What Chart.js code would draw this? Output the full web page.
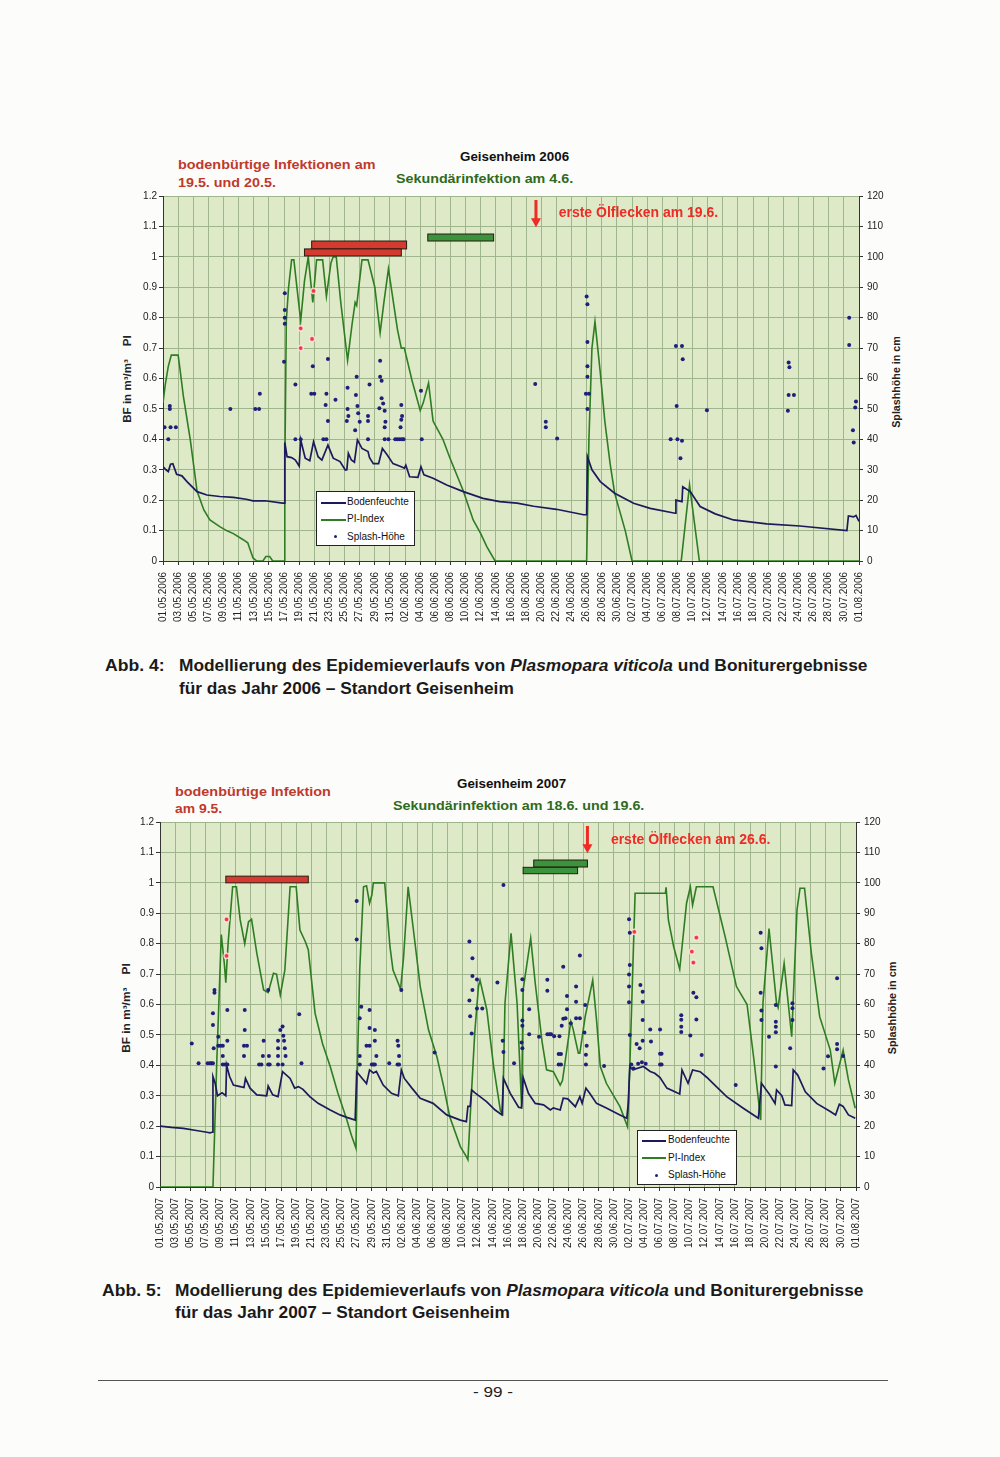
<!DOCTYPE html>
<html>
<head>
<meta charset="utf-8">
<script src="https://cdn.jsdelivr.net/npm/chart.js@4.4.0/dist/chart.umd.min.js"></script>
<style>
body { margin: 0; background: #fcfcfb; width: 1000px; height: 1457px; position: relative; overflow: hidden;
       font-family: "Liberation Sans", Arial, sans-serif; }
.t { position: absolute; white-space: nowrap; line-height: 1; font-weight: bold; transform-origin: 0 50%; }
.cap { font-family: "Liberation Sans Narrow", "Liberation Sans", Arial, sans-serif; font-size: 17px; color: #1a1a1a; }
.rot { position: absolute; white-space: nowrap; line-height: 1; font-weight: bold; font-size: 10px; color: #222;
       transform-origin: 50% 50%; }
canvas { position: absolute; }
.leg { position: absolute; background: #fff; border: 1px solid #222; font-size: 10px; color: #111; }
.leg div { position: absolute; left: 30px; height: 12px; line-height: 12px; white-space: nowrap; }
.leg span { position: absolute; }
.rule { position: absolute; left: 98px; top: 1380px; width: 790px; height: 0; border-top: 1px solid #555; }
</style>
</head>
<body>

<!-- chart 1 texts -->
<div class="t" style="left:178px;top:158px;font-size:13px;color:#c0392b" data-w="197">bodenbürtige Infektionen am</div>
<div class="t" style="left:178px;top:176px;font-size:13px;color:#c0392b" data-w="98">19.5. und 20.5.</div>
<div class="t" style="left:460px;top:151px;font-size:12px;color:#111" data-w="109">Geisenheim 2006</div>
<div class="t" style="left:396px;top:172px;font-size:13px;color:#2e6b20" data-w="177">Sekundärinfektion am 4.6.</div>
<div class="rot" style="left:128px;top:379px" data-w="88">BF in m³/m³&nbsp;&nbsp;&nbsp;&nbsp;PI</div>
<div class="rot" style="left:897px;top:382px" data-w="92">Splashhöhe in cm</div>

<canvas id="c2006"></canvas>

<div class="leg" style="left:316px;top:491px;width:97px;height:53px">
  <span style="left:4px;top:10px;width:25px;border-top:2px solid #1d1a5c"></span>
  <div style="top:4px">Bodenfeuchte</div>
  <span style="left:4px;top:27px;width:25px;border-top:2px solid #2f7d22"></span>
  <div style="top:21px">PI-Index</div>
  <span style="left:17px;top:43px;width:3px;height:3px;border-radius:50%;background:#1f1f7a"></span>
  <div style="top:39px">Splash-Höhe</div>
</div>

<div class="t cap" style="left:105px;top:657px" data-w="60">Abb. 4:</div>
<div class="t cap" style="left:179px;top:657px" data-w="688">Modellierung des Epidemieverlaufs von <i>Plasmopara viticola</i> und Boniturergebnisse</div>
<div class="t cap" style="left:179px;top:680px" data-w="335">für das Jahr 2006 – Standort Geisenheim</div>

<!-- chart 2 texts -->
<div class="t" style="left:175px;top:785px;font-size:13px;color:#c0392b" data-w="156">bodenbürtige Infektion</div>
<div class="t" style="left:175px;top:802px;font-size:13px;color:#c0392b" data-w="47">am 9.5.</div>
<div class="t" style="left:457px;top:778px;font-size:12px;color:#111" data-w="109">Geisenheim 2007</div>
<div class="t" style="left:393px;top:799px;font-size:13px;color:#2e6b20" data-w="251">Sekundärinfektion am 18.6. und 19.6.</div>
<div class="rot" style="left:127px;top:1008px" data-w="90">BF in m³/m³&nbsp;&nbsp;&nbsp;&nbsp;PI</div>
<div class="rot" style="left:893px;top:1008px" data-w="93">Splashhöhe in cm</div>

<canvas id="c2007"></canvas>

<div class="leg" style="left:637px;top:1130px;width:98px;height:53px">
  <span style="left:4px;top:9px;width:24px;border-top:2px solid #1d1a5c"></span>
  <div style="top:3px">Bodenfeuchte</div>
  <span style="left:4px;top:26px;width:24px;border-top:2px solid #2f7d22"></span>
  <div style="top:21px">PI-Index</div>
  <span style="left:17px;top:43px;width:3px;height:3px;border-radius:50%;background:#1f1f7a"></span>
  <div style="top:38px">Splash-Höhe</div>
</div>

<div class="t cap" style="left:102px;top:1282px" data-w="60">Abb. 5:</div>
<div class="t cap" style="left:175px;top:1282px" data-w="688">Modellierung des Epidemieverlaufs von <i>Plasmopara viticola</i> und Boniturergebnisse</div>
<div class="t cap" style="left:175px;top:1304px" data-w="335">für das Jahr 2007 – Standort Geisenheim</div>

<div class="rule"></div>
<div class="t" style="left:473px;top:1384px;font-size:15px;font-weight:normal;color:#222" data-w="40">- 99 -</div>

<script>
// ---- data 2006 (x = days since 01.05.) ----
const piIndex2006 = [[0,0.52],[0.3,0.58],[0.7,0.64],[1.1,0.677],[2.0,0.677],[2.3,0.62],[2.7,0.54],[3.6,0.40],[4.5,0.23],
  [5.4,0.168],[6.2,0.135],[7.5,0.113],[8.4,0.1],[9.3,0.09],[10.6,0.07],[11.2,0.06],[11.9,0.01],[12.4,0],[13.2,0],
  [13.6,0.015],[14.1,0.015],[14.5,0],[16.0,0],[16.1,0.3],[16.3,0.79],[16.6,0.9],[17.0,0.99],[17.3,0.99],[17.7,0.9],
  [18.2,0.79],[18.7,0.92],[19.2,1.0],[19.8,0.85],[20.3,0.99],[21.1,0.99],[21.6,0.87],[22.2,0.98],[22.5,1.0],[22.9,1.0],
  [23.5,0.85],[24.4,0.66],[25.0,0.78],[25.4,0.85],[25.6,0.84],[26.3,0.99],[27.1,0.99],[28.0,0.9],[28.7,0.75],[29.2,0.85],
  [29.8,0.96],[30.4,0.86],[31.0,0.76],[31.5,0.70],[31.9,0.70],[32.9,0.595],[34.0,0.495],[34.4,0.52],[35.1,0.585],
  [35.7,0.46],[37.0,0.4],[37.9,0.34],[39.7,0.23],[41.0,0.135],[42.0,0.09],[42.8,0.047],[43.9,0],[56.0,0],[56.3,0.4],
  [56.7,0.7],[57.1,0.787],[57.8,0.62],[58.4,0.46],[59.1,0.32],[59.7,0.223],[61.1,0.10],[62.0,0],[68.5,0],[69.6,0.25],
  [70.9,0],[92,0]];
const soil2006 = [[0,0.31],[0.4,0.3],[0.7,0.294],[1.0,0.318],[1.3,0.32],[1.8,0.285],[2.5,0.28],[3.2,0.26],[4.5,0.228],
  [5.8,0.217],[7.5,0.212],[9.3,0.209],[11.0,0.203],[11.9,0.198],[13.5,0.198],[15.8,0.19],[16.0,0.19],[16.1,0.39],
  [16.4,0.343],[17.0,0.34],[17.5,0.332],[18.0,0.312],[18.2,0.398],[18.8,0.338],[19.4,0.33],[19.9,0.392],[20.5,0.343],
  [21.0,0.332],[21.8,0.381],[22.5,0.338],[23.4,0.327],[24.1,0.299],[24.3,0.3],[24.5,0.354],[24.9,0.332],[25.3,0.325],
  [25.7,0.398],[26.3,0.37],[27.1,0.36],[27.3,0.34],[27.8,0.32],[28.5,0.32],[29.0,0.37],[29.6,0.35],[30.4,0.32],
  [31.5,0.31],[31.9,0.305],[32.1,0.315],[32.6,0.277],[33.7,0.275],[34.1,0.31],[34.5,0.283],[35.7,0.272],[37.5,0.25],
  [39.7,0.228],[42.3,0.206],[44.5,0.195],[46.8,0.19],[49.0,0.18],[52,0.17],[55.6,0.152],[56.0,0.152],[56.1,0.343],
  [56.7,0.3],[57.8,0.261],[59.7,0.223],[62.2,0.19],[64.4,0.173],[67.7,0.157],[67.8,0.2],[68.6,0.195],[68.7,0.244],
  [69.7,0.228],[71,0.179],[73,0.155],[75.4,0.135],[79.8,0.122],[84.2,0.115],[90.4,0.1],[90.6,0.148],[91.3,0.145],
  [91.6,0.15],[92,0.13]];
const splash2006 = [[0.2,44],[0.7,40],[0.9,51],[0.9,50],[1.0,44],[1.7,44],[8.9,50],[12.2,50],[12.7,50],[12.8,55],
  [16.1,88],[16.1,82.5],[16.1,80],[16.1,78],[16.0,65.5],[17.5,58],[17.5,40],[18.2,40],[19.8,64],[19.6,55],[20.0,55],
  [21.8,66.4],[21.6,55],[21.5,51.3],[21.8,46],[21.2,40],[21.6,40],[22.8,53],[24.4,57],[24.4,50],[24.5,47.7],[24.3,46],
  [25.4,43],[25.5,54.6],[25.6,60.6],[25.7,51],[25.8,48.6],[26.0,45.8],[27.1,47.7],[27.1,46],[27.3,58],[27.1,40],
  [28.7,65.8],[28.7,60.6],[28.9,59.3],[28.9,53.5],[29.1,51.8],[28.6,50.2],[29.3,49.4],[29.4,45.8],[29.3,44],[29.3,40],
  [29.8,40],[30.7,40],[31.0,40],[31.3,40],[31.6,40],[31.8,40],[31.5,51.3],[31.6,47.7],[31.4,44],[31.5,46.4],[34.1,56],
  [34.2,40],[49.2,58.2],[50.6,45.8],[50.6,44],[52.1,40.3],[56.0,87],[56.1,84.4],[56.1,72],[56.1,64],[56.1,60.6],
  [55.9,55],[56.3,55],[56.1,50],[67.8,70.7],[68.6,70.7],[68.7,66.3],[67.9,51],[67.1,40],[68.0,40],[68.6,39.5],
  [68.4,33.8],[71.9,49.6],[82.7,65.3],[82.8,63.7],[82.7,54.6],[83.4,54.6],[82.6,49.4],[90.7,80],[90.7,71],[91.6,52.4],
  [91.5,50.5],[91.2,43],[91.3,39]];
const bonitur2006 = [[19.9,0.888],[18.2,0.765],[19.7,0.73],[18.2,0.70]];
const redBars2006 = [[19.65,32.2,1.026,1.052],[18.7,31.5,1.003,1.026]];
const greenBars2006 = [[35.0,43.7,1.052,1.075]];
const oilSpots2006 = { day: 49.3, labelDay: 52.3, labelValue: 1.145, text: 'erste Ölflecken am 19.6.' };

// ---- data 2007 ----
const piIndex2007 = [[0,0],[7.0,0],[7.5,0.407],[8.1,0.83],[8.5,0.735],[8.7,0.672],[9.0,0.80],[9.6,0.987],[10.1,0.987],
  [10.6,0.878],[11.2,0.80],[11.7,0.872],[12.1,0.88],[12.8,0.768],[13.7,0.648],[14.3,0.639],[15.0,0.703],[15.4,0.70],
  [15.9,0.631],[16.5,0.713],[17.2,0.987],[18.0,0.987],[18.5,0.845],[19.2,0.807],[19.6,0.78],[20.5,0.571],[21.5,0.47],
  [22.5,0.396],[23.5,0.31],[24.7,0.22],[25.3,0.17],[25.9,0.128],[26.1,0.4],[26.4,0.713],[26.9,0.987],[27.3,0.99],
  [27.7,0.933],[28.0,0.96],[28.2,1.0],[29.7,1.0],[30.4,0.79],[30.8,0.713],[31.5,0.67],[31.8,0.65],[32.2,0.757],
  [32.8,0.987],[33.5,0.845],[34.4,0.659],[35.5,0.516],[36.6,0.428],[37.5,0.33],[38.3,0.231],[39.7,0.133],[40.5,0.1],
  [40.7,0.09],[41.0,0.23],[41.6,0.505],[42.1,0.66],[42.3,0.68],[43.2,0.582],[44.1,0.396],[45.0,0.25],[45.3,0.24],
  [45.6,0.604],[46.4,0.834],[47.2,0.604],[47.8,0.264],[48.0,0.648],[49.0,0.818],[49.6,0.67],[50.5,0.478],[51.1,0.385],
  [52.0,0.379],[52.9,0.335],[53.2,0.35],[54.3,0.544],[54.6,0.52],[55.3,0.44],[55.5,0.44],[56.2,0.56],[57.2,0.68],
  [57.7,0.55],[58.2,0.396],[59.0,0.341],[60.8,0.264],[61.8,0.198],[62.1,0.396],[62.8,0.966],[66.8,0.966],[66.9,0.985],
  [67.2,0.878],[67.9,0.79],[68.7,0.716],[69.6,0.933],[70.1,0.987],[70.4,0.927],[70.9,0.987],[73.1,0.987],[74.7,0.823],
  [76.2,0.659],[77.6,0.6],[78.5,0.42],[79.3,0.242],[79.4,0.22],[79.7,0.604],[80.5,0.85],[81.5,0.604],[81.7,0.59],
  [82.5,0.735],[83.5,0.494],[84.2,0.911],[84.6,0.982],[85.2,0.982],[86.1,0.768],[87.2,0.56],[88.6,0.45],[89.2,0.341],
  [90.3,0.45],[91.0,0.352],[91.9,0.259]];
const soil2007 = [[0,0.2],[1.5,0.196],[3.1,0.193],[5,0.185],[6.2,0.18],[6.6,0.178],[6.9,0.18],[7.0,0.363],[7.3,0.34],
  [7.6,0.3],[8.2,0.31],[8.7,0.30],[8.8,0.40],[9.2,0.363],[9.7,0.335],[10.6,0.33],[11.1,0.327],[11.3,0.357],[11.9,0.325],
  [12.8,0.303],[14.1,0.30],[14.3,0.332],[14.9,0.303],[15.6,0.297],[16.2,0.379],[17.2,0.357],[17.8,0.325],[18.3,0.33],
  [18.9,0.321],[19.8,0.297],[20.9,0.275],[22.5,0.253],[23.8,0.237],[24.7,0.229],[25.8,0.22],[26.0,0.379],[26.9,0.352],
  [27.3,0.34],[27.7,0.385],[28.2,0.375],[28.6,0.38],[29.5,0.335],[30.6,0.308],[31.5,0.30],[31.9,0.385],[32.3,0.357],
  [33.3,0.325],[34.4,0.292],[36.1,0.275],[37.9,0.237],[39.7,0.22],[40.5,0.215],[40.7,0.265],[41.0,0.265],[41.2,0.319],
  [41.6,0.31],[42.3,0.297],[43.2,0.28],[44.3,0.253],[45.2,0.237],[45.4,0.357],[46.3,0.308],[47.4,0.262],[47.8,0.26],
  [48.0,0.36],[48.7,0.308],[49.6,0.275],[50.7,0.27],[51.6,0.253],[52.0,0.26],[52.9,0.253],[53.3,0.292],[53.9,0.29],
  [54.9,0.264],[55.5,0.297],[55.8,0.275],[56.3,0.325],[56.8,0.308],[57.7,0.275],[59.0,0.26],[60.8,0.237],[61.7,0.226],
  [61.9,0.275],[62.1,0.396],[62.5,0.385],[63.9,0.396],[64.8,0.38],[65.4,0.374],[66.1,0.36],[67.0,0.325],[68.7,0.306],
  [69.0,0.385],[69.8,0.341],[70.4,0.385],[71.4,0.379],[72.3,0.36],[73.1,0.341],[74.9,0.297],[77.1,0.259],[79.1,0.226],
  [79.5,0.341],[80.6,0.303],[81.3,0.275],[81.5,0.319],[82.2,0.30],[82.6,0.27],[83.5,0.268],[83.7,0.385],[84.3,0.368],
  [85.3,0.313],[86.8,0.275],[88.6,0.248],[89.3,0.237],[89.8,0.272],[90.3,0.265],[91.0,0.237],[91.9,0.226]];
const splash2007 = [[4.2,47.2],[5.1,40.7],[6.3,40.7],[6.6,40.7],[6.8,40.7],[7.0,40.7],[7.0,57.1],[7.0,53.3],[7.1,45.6],
  [7.2,64.8],[7.2,63.9],[7.7,49.4],[7.7,46.4],[8.0,46.4],[8.3,46.4],[8.3,43.1],[8.3,40.3],[8.6,40.3],[8.9,40.3],
  [8.9,58.2],[8.9,48.1],[11.2,58.2],[11.2,51.6],[11.1,46.4],[11.5,46.4],[11.1,43.1],[13.1,40.3],[13.4,40.3],[13.7,48.1],
  [13.6,43.1],[14.3,40.3],[14.5,40.3],[14.4,43.1],[14.3,64.8],[15.6,48.1],[15.6,45.6],[15.6,43.1],[15.6,40.3],
  [16.2,40.3],[15.9,51.6],[16.2,52.8],[16.3,49.7],[16.4,48.1],[16.5,45.6],[16.6,43.1],[18.4,56.8],[18.7,40.7],
  [26.0,94],[26.0,81.4],[26.6,59.3],[26.4,55.5],[26.4,43.1],[26.4,40.3],[27.3,46.4],[27.7,46.4],[27.7,58.2],[27.7,52.3],
  [28.0,40.3],[28.2,40.3],[28.4,40.3],[28.4,51.6],[28.4,48.1],[28.6,43.1],[30.3,40.7],[31.4,48.1],[31.5,46.4],
  [31.6,43.1],[31.4,40.3],[31.6,40.3],[31.9,64.8],[36.3,44.2],[40.9,80.7],[41.3,75.2],[41.3,69.4],[41.9,68.2],
  [41.3,64.8],[40.9,61.3],[41.0,56.1],[41.2,50.5],[41.9,58.7],[42.6,58.7],[44.6,67.2],[45.4,99.3],[45.3,48.1],
  [45.4,44.4],[46.8,40.7],[47.9,68.3],[47.9,64.8],[47.9,54.7],[47.9,53],[47.8,47.5],[47.9,45.6],[48.8,58.4],[48.8,50.2],
  [50.1,49.4],[51.2,68.1],[51.2,64.5],[51.2,50.2],[51.5,50.2],[51.7,50.2],[52.1,49.6],[52.8,49.6],[53.3,72.4],[53.1,53],
  [53.3,55.3],[52.7,43.7],[53.0,43.7],[52.7,40.3],[53.0,40.3],[53.8,62.8],[53.8,58.4],[53.6,55.5],[54.3,53.8],
  [55.0,65.9],[55.0,60.9],[55.0,55.5],[55.5,55.5],[55.5,76.1],[56.2,59.8],[56.1,50.8],[56.4,46.4],[56.3,43.5],
  [56.3,40.3],[58.7,39.8],[62.0,88],[62.1,83.6],[62.1,73],[62.0,69.9],[62.0,65.9],[62.0,60.7],[62.1,50],[62.3,40.3],
  [62.6,39],[63.5,66.4],[63.8,64.2],[63.8,60.9],[63.8,54.9],[63.0,47],[63.4,45.6],[63.8,48.1],[63.2,40.5],[63.7,41],
  [64.2,40.5],[64.8,51.8],[64.9,47.8],[66.1,51.8],[66.1,43.8],[66.3,43.8],[66.1,40.3],[66.3,40.3],[68.9,56.5],
  [68.9,55],[68.9,52.7],[68.9,51],[70.1,49.8],[70.5,63.9],[70.9,62.4],[70.9,55.1],[71.6,43.4],[76.1,33.5],[79.4,83.6],
  [79.5,78.5],[79.4,63.9],[79.5,58],[79.5,54.9],[80.5,49.4],[81.4,59.8],[81.4,54.3],[81.4,52.7],[81.4,50.9],
  [81.4,39.6],[83.3,45.6],[83.6,60.4],[83.6,58.8],[83.6,54.9],[87.7,39],[88.3,43],[89.5,68.6],[89.5,47],[89.5,45.3],
  [90.3,43.1]];
const bonitur2007 = [[8.8,0.88],[8.8,0.76],[62.7,0.839],[70.3,0.774],[70.9,0.82],[70.5,0.738]];
const redBars2007 = [[8.7,19.6,1.0,1.022]];
const greenBars2007 = [[49.4,56.5,1.052,1.075],[48.0,55.2,1.03,1.051]];
const oilSpots2007 = { day: 56.5, labelDay: 59.6, labelValue: 1.14, text: 'erste Ölflecken am 26.6.' };

Chart.defaults.font.family = '"Liberation Sans", Arial, sans-serif';
Chart.defaults.animation = false;

const GRID = '#9fb58b';
const AXIS = '#333';

function pts(arr) { return arr.map(p => ({ x: p[0], y: p[1] })); }

function dateLabel(year, v) {
  const d = new Date(year, 4, 1 + Math.round(v));
  const dd = String(d.getDate()).padStart(2, '0');
  const mm = String(d.getMonth() + 1).padStart(2, '0');
  return dd + '.' + mm + '.' + year;
}

// light green plot area
const plotBackground = {
  id: 'plotBackground',
  beforeDraw(chart) {
    const a = chart.chartArea, ctx = chart.ctx;
    ctx.save();
    ctx.fillStyle = '#dde9c7';
    ctx.fillRect(a.left, a.top, a.right - a.left, a.bottom - a.top);
    ctx.restore();
  }
};

// infection period bars, arrow and label for the first oil spots
function annotations(redBars, greenBars, oil) {
  return {
    id: 'annotations',
    afterDatasetsDraw(chart) {
      const ctx = chart.ctx, xs = chart.scales.x, ys = chart.scales.y;
      const bar = (b, fill) => {
        const x1 = xs.getPixelForValue(b[0]), x2 = xs.getPixelForValue(b[1]);
        const y1 = ys.getPixelForValue(b[3]), y2 = ys.getPixelForValue(b[2]);
        ctx.fillStyle = fill;
        ctx.fillRect(x1, y1, x2 - x1, y2 - y1);
        ctx.lineWidth = 1;
        ctx.strokeStyle = '#2a1a12';
        ctx.strokeRect(x1, y1, x2 - x1, y2 - y1);
      };
      ctx.save();
      redBars.forEach(b => bar(b, '#d43a2f'));
      greenBars.forEach(b => bar(b, '#3b933b'));

      const ax = xs.getPixelForValue(oil.day);
      const yA = ys.getPixelForValue(1.187), yB = ys.getPixelForValue(1.097);
      ctx.strokeStyle = '#ee2b24';
      ctx.fillStyle = '#ee2b24';
      ctx.lineWidth = 3;
      ctx.beginPath(); ctx.moveTo(ax, yA); ctx.lineTo(ax, yB - 8); ctx.stroke();
      ctx.beginPath(); ctx.moveTo(ax - 5, yB - 9); ctx.lineTo(ax + 5, yB - 9); ctx.lineTo(ax, yB); ctx.closePath(); ctx.fill();

      ctx.font = 'bold 14px "Liberation Sans", Arial, sans-serif';
      ctx.textBaseline = 'middle';
      ctx.textAlign = 'left';
      ctx.fillText(oil.text, xs.getPixelForValue(oil.labelDay), ys.getPixelForValue(oil.labelValue));
      ctx.restore();
    }
  };
}

function makeChart(id, year, left, top, pi, soil, splash, bonitur, redBars, greenBars, oil) {
  const cv = document.getElementById(id);
  cv.width = 820; cv.height = 450;
  cv.style.left = left + 'px'; cv.style.top = top + 'px';
  return new Chart(cv, {
    type: 'scatter',
    data: {
      datasets: [
        { label: 'Splash-Höhe', data: pts(splash), yAxisID: 'y2', pointRadius: 2, pointBorderWidth: 0,
          backgroundColor: '#1f1f7a', showLine: false },
        { label: 'Bonitur', data: pts(bonitur), yAxisID: 'y', pointRadius: 2.6, pointBorderWidth: 1.5,
          backgroundColor: '#f03c3c', borderColor: 'rgba(255,235,235,0.8)', showLine: false },
        { label: 'Bodenfeuchte', data: pts(soil), yAxisID: 'y', showLine: true, pointRadius: 0,
          borderColor: '#1d1a5c', borderWidth: 1.7, tension: 0 },
        { label: 'PI-Index', data: pts(pi), yAxisID: 'y', showLine: true, pointRadius: 0,
          borderColor: '#2f7d22', borderWidth: 1.6, tension: 0 }
      ]
    },
    options: {
      responsive: false,
      layout: { padding: { top: 10, left: 0, right: 0, bottom: 0 } },
      plugins: { legend: { display: false }, tooltip: { enabled: false } },
      scales: {
        x: {
          type: 'linear', min: 0, max: 92,
          afterFit: s => { s.height = 75; },
          ticks: { stepSize: 2, autoSkip: false, minRotation: 90, maxRotation: 90, padding: 7,
                   font: { size: 10 }, color: '#222', callback: v => dateLabel(year, v) },
          grid: { color: GRID, tickColor: AXIS, tickLength: 4 },
          border: { color: AXIS }
        },
        y: {
          position: 'left', min: 0, max: 1.2,
          afterFit: s => { s.width = 63; },
          ticks: { stepSize: 0.1, padding: 2, font: { size: 10 }, color: '#222',
                   callback: v => String(Math.round(v * 10) / 10) },
          grid: { color: GRID, tickColor: AXIS, tickLength: 4 },
          border: { color: AXIS }
        },
        y2: {
          position: 'right', min: 0, max: 120,
          afterFit: s => { s.width = 61; },
          ticks: { stepSize: 10, padding: 4, font: { size: 10 }, color: '#222' },
          grid: { drawOnChartArea: false, tickColor: AXIS, tickLength: 4 },
          border: { color: AXIS }
        }
      }
    },
    plugins: [plotBackground, annotations(redBars, greenBars, oil)]
  });
}

makeChart('c2006', 2006, 100, 186, piIndex2006, soil2006, splash2006, bonitur2006, redBars2006, greenBars2006, oilSpots2006);
makeChart('c2007', 2007, 97, 812, piIndex2007, soil2007, splash2007, bonitur2007, redBars2007, greenBars2007, oilSpots2007);

// squeeze/stretch the page texts to the widths measured on the scan
document.querySelectorAll('[data-w]').forEach(el => {
  const k = (+el.dataset.w) / el.offsetWidth;
  if (el.classList.contains('rot')) {
    el.style.transform = 'translate(-50%,-50%) rotate(-90deg) scaleX(' + k + ')';
  } else {
    el.style.transform = 'scaleX(' + k + ')';
  }
});
</script>
</body>
</html>
